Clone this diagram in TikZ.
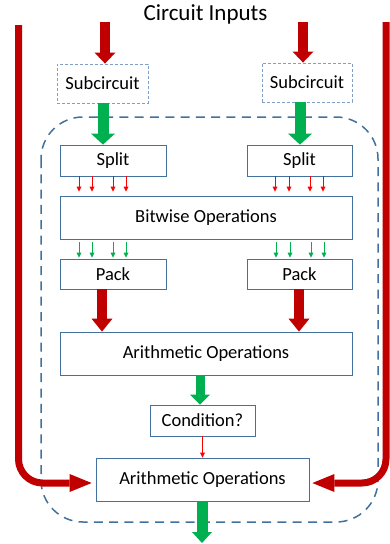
\documentclass[tikz,border=0pt]{standalone}
\usepackage{fontspec}
\setmainfont{Carlito}
\usetikzlibrary{arrows.meta}
\definecolor{darkred}{HTML}{C00000}
\definecolor{mygreen}{HTML}{00B050}
\definecolor{boxblue}{HTML}{41719C}
\definecolor{subblue}{HTML}{7F9FC4}
\definecolor{brightred}{HTML}{FF0000}
\begin{document}
\begin{tikzpicture}[x=1pt,y=-1pt,
  boxtext/.style={font=\fontsize{18.5}{20}\selectfont, inner sep=0pt},
  box/.style={boxtext, draw=boxblue, line width=0.8pt, fill=white},
  subbox/.style={boxtext, draw=subblue, dash pattern=on 3pt off 2pt, line width=0.9pt, fill=white},
  container/.style={draw=boxblue, line width=1.5pt, dash pattern=on 9pt off 6.3pt, rounded corners=42pt},
  redblock/.style={draw=darkred, line width=10pt, -{Triangle[width=21pt,length=11pt,line width=0pt]}},
  greenblock/.style={draw=mygreen, line width=11pt, -{Triangle[width=23pt,length=11pt,line width=0pt]}},
  redcurve/.style={draw=darkred, line width=7pt, rounded corners=24pt, -{Triangle[width=18pt,length=22pt,line width=0pt]}},
  smallred/.style={draw=brightred, line width=0.9pt, -{Triangle[width=5pt,length=5pt,line width=0pt]}},
  smallgreen/.style={draw=mygreen, line width=0.9pt, -{Triangle[width=5pt,length=5pt,line width=0pt]}},
]
\useasboundingbox (0,0) rectangle (389,544);

% title
\node[font=\fontsize{23}{25}\selectfont, inner sep=0pt] (title) at (205.5,14) {Circuit Inputs};

% container
\draw[container] (41,117) rectangle (378,522);

% nodes
\node[subbox, minimum width=91pt, minimum height=39pt] (sub1) at (102.5,83.5) {Subcircuit};
\node[subbox, minimum width=90pt, minimum height=39pt] (sub2) at (307,82.5) {Subcircuit};
\node[box, minimum width=106pt, minimum height=31pt] (sp1) at (113,160.5) {Split};
\node[box, minimum width=105pt, minimum height=31pt] (sp2) at (299.5,160.5) {Split};
\node[box, minimum width=292pt, minimum height=43pt] (bit) at (206,217.5) {Bitwise Operations};
\node[box, minimum width=106pt, minimum height=30pt] (pk1) at (113,274) {Pack};
\node[box, minimum width=105pt, minimum height=30pt] (pk2) at (299.5,274) {Pack};
\node[box, minimum width=292pt, minimum height=43pt] (ar1) at (206,353.5) {Arithmetic Operations};
\node[box, minimum width=105pt, minimum height=31pt] (cond) at (202.5,420.5) {Condition?};
\node[box, minimum width=213pt, minimum height=43pt] (ar2) at (202.5,479.5) {Arithmetic Operations};

% coordinates
\coordinate (in1) at (105,22);
\coordinate (in2) at (303,22);
\coordinate (lt) at (18.5,25);
\coordinate (rt) at (386,22);
\coordinate (out) at (202,543);

% inputs
\draw[redblock] (in1) -- (in1 |- sub1.north);
\draw[redblock] (in2) -- (in2 |- sub2.north);

% subcircuit -> split
\draw[greenblock, -{Triangle[width=24pt,length=11pt,line width=0pt]}] ([xshift=0.5pt]sub1.south) -- ([xshift=0.5pt]sub1.south |- sp1.north);
\draw[greenblock, -{Triangle[width=24pt,length=11pt,line width=0pt]}] ([xshift=-7pt]sub2.south) -- ([xshift=-7pt]sub2.south |- sp2.north);

% split -> bitwise
\foreach \x in {79,92,113,126}{
  \draw[smallred, shorten >=4pt] (sp1.south -| \x,0) -- (bit.north -| \x,0);
}
\foreach \x in {275,289,310,323}{
  \draw[smallred, shorten >=4pt] (sp2.south -| \x,0) -- (bit.north -| \x,0);
}
% bitwise -> pack
\foreach \x in {79,92,113,126}{
  \draw[smallgreen, shorten <=3pt, shorten >=1pt] (bit.south -| \x,0) -- (pk1.north -| \x,0);
}
\foreach \x in {276,290,311,324}{
  \draw[smallgreen, shorten <=3pt, shorten >=1pt] (bit.south -| \x,0) -- (pk2.north -| \x,0);
}

% pack -> arithmetic
\draw[redblock, -{Triangle[width=21pt,length=13pt,line width=0pt]}] ([xshift=-11pt]pk1.south) -- ([xshift=-11pt]pk1.south |- ar1.north);
\draw[redblock, -{Triangle[width=21pt,length=13pt,line width=0pt]}] ([xshift=-0.5pt]pk2.south) -- ([xshift=-0.5pt]pk2.south |- ar1.north);

% arithmetic -> condition
\draw[greenblock, line width=9pt, -{Triangle[width=20pt,length=10pt,line width=0pt]}] ([xshift=-6pt]ar1.south) -- ([xshift=-6pt]ar1.south |- cond.north);

% condition -> arithmetic 2
\draw[smallred, line width=0.8pt] (cond.south) -- (ar2.north);

% output
\draw[greenblock, -{Triangle[width=20pt,length=11pt,line width=0pt]}] (ar2.south -| out) -- (out);

% side red curves
\draw[redcurve, shorten >=4pt] (lt) |- ([yshift=-3.5pt]ar2.west);
\draw[redcurve, shorten >=3pt] (rt) |- ([yshift=-3.5pt]ar2.east);
\end{tikzpicture}
\end{document}
